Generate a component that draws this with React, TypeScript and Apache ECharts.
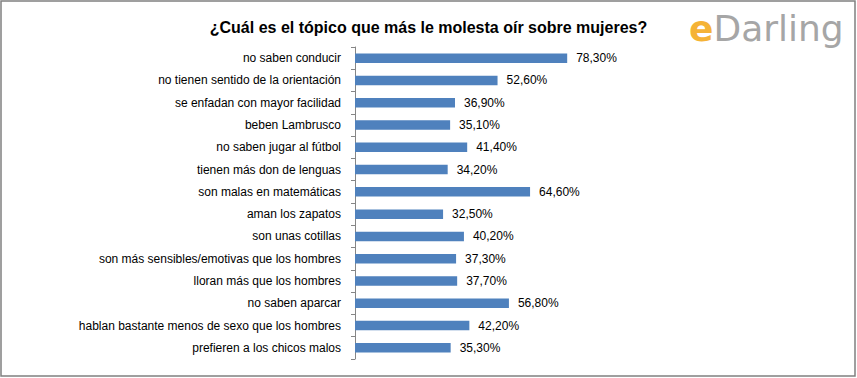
import React, { useEffect, useRef } from "react";
import * as echarts from "echarts";

const categories = [
  "no saben conducir",
  "no tienen sentido de la orientación",
  "se enfadan con mayor facilidad",
  "beben Lambrusco",
  "no saben jugar al fútbol",
  "tienen más don de lenguas",
  "son malas en matemáticas",
  "aman los zapatos",
  "son unas cotillas",
  "son más sensibles/emotivas que los hombres",
  "lloran más que los hombres",
  "no saben aparcar",
  "hablan bastante menos de sexo que los hombres",
  "prefieren a los chicos malos",
];
const values = [78.3, 52.6, 36.9, 35.1, 41.4, 34.2, 64.6, 32.5, 40.2, 37.3, 37.7, 56.8, 42.2, 35.3];
const titleText = "¿Cuál es el tópico que más le molesta oír sobre mujeres?";

export default function App() {
  const ref = useRef<HTMLDivElement>(null);
  useEffect(() => {
    if (!ref.current) return;
    const chart = echarts.init(ref.current, null, { renderer: "svg" });
    chart.setOption({
      animation: false,
      backgroundColor: "#ffffff",
      title: {
        text: titleText,
        left: "center",
        top: 14,
        textStyle: {
          fontFamily: "Liberation Sans",
          fontWeight: "bold",
          fontSize: 16,
          color: "#000000",
        },
      },
      grid: {
        left: 355,
        top: 47,
        bottom: 19,
        right: 231,
        outerBoundsMode: "none",
      },
      xAxis: {
        type: "value",
        min: 0,
        max: 100,
        show: false,
      },
      yAxis: {
        type: "category",
        data: categories,
        inverse: true,
        axisLine: { show: true, lineStyle: { color: "#868686", width: 1 } },
        axisTick: { show: true, length: 4, lineStyle: { color: "#868686" } },
        axisLabel: {
          margin: 14,
          fontFamily: "Liberation Sans",
          fontSize: 12,
          color: "#000000",
        },
        splitLine: { show: false },
      },
      series: [
        {
          type: "bar",
          data: values,
          barWidth: 9.5,
          itemStyle: { color: "#4F81BD" },
          label: {
            show: true,
            position: "right",
            distance: 9,
            fontFamily: "Liberation Sans",
            fontSize: 12,
            color: "#000000",
            formatter: (p: any) => p.value.toFixed(2).replace(".", ",") + "%",
          },
        },
      ],
      graphic: [
        {
          type: "rect",
          shape: { x: 1, y: 1, width: 854, height: 375 },
          style: { fill: "none", stroke: "#808080", lineWidth: 1.5 },
          silent: true,
        },
        {
          type: "text",
          x: 689,
          y: 10,
          style: {
            text: "{e|e}{d|Darling}",
            rich: {
              e: { fontFamily: "DejaVu Sans", fontSize: 36, fontWeight: "bold", fill: "#F5B335" },
              d: { fontFamily: "DejaVu Sans", fontSize: 36, fill: "#A6A6A6" },
            },
          },
        },
      ],
    });
    return () => chart.dispose();
  }, []);
  return (
    <div
      ref={ref}
      style={{ position: "fixed", left: 0, top: 0, width: 857, height: 378 }}
    />
  );
}
